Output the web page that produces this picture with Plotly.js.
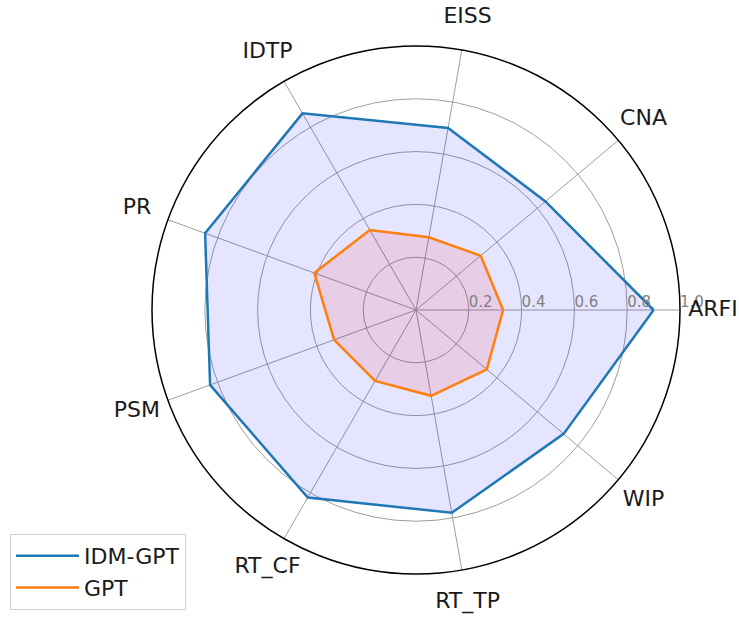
<!DOCTYPE html>
<html>
<head>
<meta charset="utf-8">
<script src="https://cdn.plot.ly/plotly-3.0.1.min.js"></script>
<style>html,body{margin:0;padding:0;background:#fff;}#chart{width:739px;height:618px;}</style>
</head>
<body>
<div id="chart"></div>
<script>
const categories = ["ARFI", "CNA", "EISS", "IDTP", "PR", "PSM", "RT_CF", "RT_TP", "WIP"];
const idmGpt = [0.90, 0.64, 0.70, 0.86, 0.85, 0.83, 0.82, 0.78, 0.73];
const gpt = [0.33, 0.32, 0.28, 0.35, 0.41, 0.33, 0.31, 0.33, 0.35];
const radialTicks = [0.2, 0.4, 0.6, 0.8, 1.0];
const radialTickText = ["0.2", "0.4", "0.6", "0.8", "1.0"];

function closed(arr) { return arr.concat([arr[0]]); }
// pad labels so they sit just outside each ring, as in the reference
const pad = "\u00a0\u00a0\u00a0\u00a0\u00a0";
const labelRadius = 1.125;

// geometry of the main polar frame (pixels)
const cx = 416, cy = 310, R = 264, W = 739, H = 618;
const R2 = R * labelRadius;

const theta = closed(categories);
const traces = [
  {type: "scatterpolar", r: closed(idmGpt), theta: theta, mode: "none", fill: "toself",
   fillcolor: "rgba(0,0,255,0.1)", showlegend: false, hoverinfo: "skip"},
  {type: "scatterpolar", r: closed(gpt), theta: theta, mode: "none", fill: "toself",
   fillcolor: "rgba(255,0,0,0.1)", showlegend: false, hoverinfo: "skip"},
  {type: "scatterpolar", r: closed(idmGpt), theta: theta, mode: "lines", name: "IDM-GPT",
   line: {color: "#1f77b4", width: 2.5}},
  {type: "scatterpolar", r: closed(gpt), theta: theta, mode: "lines", name: "GPT",
   line: {color: "#ff7f0e", width: 2.5}},
  // category labels, centred on a fixed radius outside the frame (matplotlib style)
  {type: "scatterpolar", subplot: "polar2", r: categories.map(() => labelRadius), theta: categories,
   text: categories, mode: "text", textposition: "middle center", cliponaxis: false,
   textfont: {family: "DejaVu Sans", size: 22, color: "#1a1a1a"},
   showlegend: false, hoverinfo: "skip"}
];

const hiddenAngular = {
  type: "category", categoryorder: "array", categoryarray: categories,
  rotation: 0, direction: "counterclockwise",
  showline: false, showgrid: false, showticklabels: false, ticks: ""
};

const layout = {
  width: W, height: H,
  margin: {l: 0, r: 0, t: 0, b: 0},
  paper_bgcolor: "#fff",
  font: {family: "DejaVu Sans", color: "#000"},
  polar: {
    domain: {x: [(cx - R) / W, (cx + R) / W], y: [1 - (cy + R) / H, 1 - (cy - R) / H]},
    bgcolor: "rgba(0,0,0,0)",
    angularaxis: {
      type: "category",
      categoryorder: "array", categoryarray: categories,
      rotation: 0, direction: "counterclockwise",
      showline: true, linecolor: "#000", linewidth: 1.5,
      showgrid: true, gridcolor: "#9e9e9e", gridwidth: 1.3,
      ticks: "", showticklabels: false
    },
    radialaxis: {
      range: [0, 1], angle: 0, tickangle: 0,
      tickvals: radialTicks, ticktext: radialTickText.map(t => pad + t),
      showline: false, ticks: "",
      side: "counterclockwise",
      showgrid: true, gridcolor: "#9e9e9e", gridwidth: 1.3,
      tickfont: {family: "DejaVu Sans", size: 15, color: "#808080"}
    }
  },
  polar2: {
    domain: {x: [(cx - R2) / W, (cx + R2) / W], y: [1 - (cy + R2) / H, 1 - (cy - R2) / H]},
    bgcolor: "rgba(0,0,0,0)",
    angularaxis: hiddenAngular,
    radialaxis: {range: [0, labelRadius], visible: false, showgrid: false, showline: false,
                 showticklabels: false, ticks: ""}
  },
  showlegend: true,
  legend: {
    x: 10/739, y: 8/618, xanchor: "left", yanchor: "bottom",
    bgcolor: "#fff", bordercolor: "#d0d0d0", borderwidth: 1,
    itemwidth: 63,
    font: {family: "DejaVu Sans", size: 22, color: "#1a1a1a"}
  }
};

Plotly.newPlot("chart", traces, layout, {displayModeBar: false});
</script>
</body>
</html>
